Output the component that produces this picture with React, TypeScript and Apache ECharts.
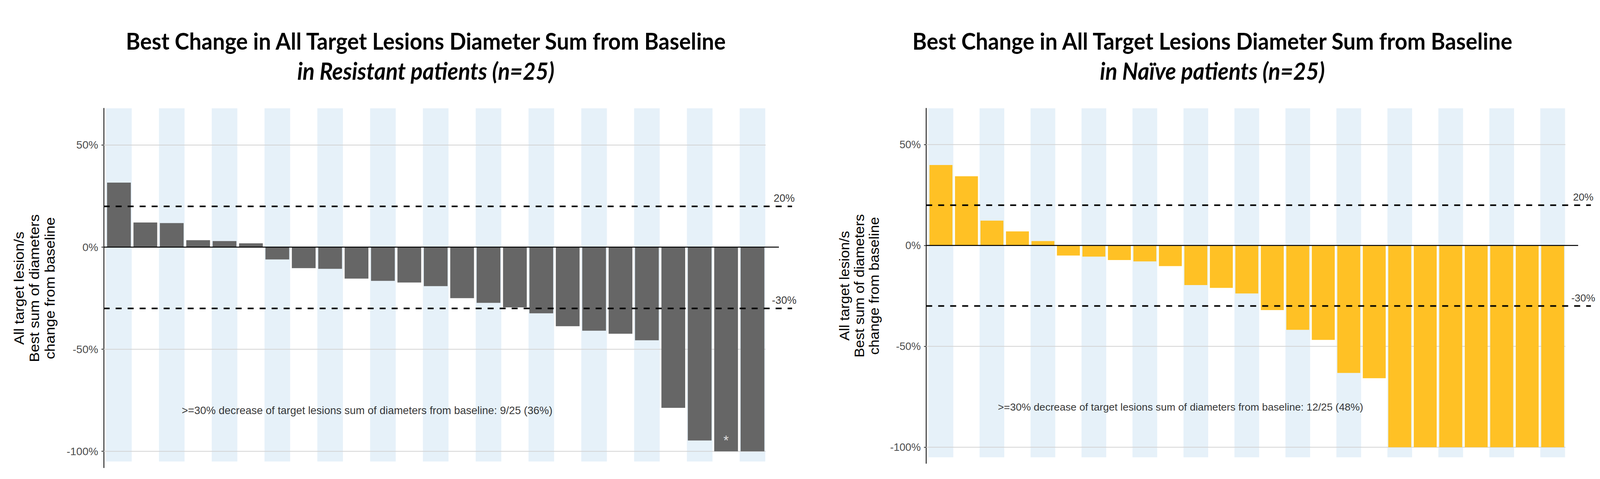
import React, { useEffect, useRef } from "react";
import * as echarts from "echarts";

// ---------- data ----------
const patientIds = [1, 2, 3, 4, 5, 6, 7, 8, 9, 10, 11, 12, 13, 14, 15, 16, 17, 18, 19, 20, 21, 22, 23, 24, 25];
const resistantValues = [31.6, 12.1, 11.8, 3.4, 3.0, 1.9, -6.0, -10.3, -10.6, -15.4, -16.5, -17.3, -19.1, -25.0, -27.3, -29.5, -32.4, -38.7, -40.9, -42.4, -45.6, -78.7, -94.7, -100, -100];
const naiveValues = [39.9, 34.3, 12.3, 7.0, 2.2, -5.0, -5.5, -7.2, -7.9, -10.2, -19.6, -21.0, -23.8, -32.0, -41.8, -46.8, -63.2, -65.8, -100, -100, -100, -100, -100, -100, -100];
const resistantAsterisks = [24];
const naiveAsterisks: number[] = [];
const thresholds = [20, -30];
const thresholdLabels = ["20%", "-30%"];
const yTicks = [50, 0, -50, -100];
const mainTitle = "Best Change in All Target Lesions Diameter Sum from Baseline";
const resistantSubtitle = "in Resistant patients (n=25)";
const naiveSubtitle = "in Naïve patients (n=25)";
const resistantNote = ">=30% decrease of target lesions sum of diameters from baseline: 9/25 (36%)";
const naiveNote = ">=30% decrease of target lesions sum of diameters from baseline: 12/25 (48%)";
const yAxisTitle = "All target lesion/s\nBest sum of diameters\nchange from baseline";

// ---------- axis ranges (data units) ----------
const X_MIN = 0.42;
const X_MAX = 26.8;
const Y_MIN = -108;
const Y_MAX = 68;
const BAND_BOTTOM = -105;
const GRID_END = 25.5;
const ZERO_END = 26;
const THRESH_END = 26.5;
const THRESH_LABEL_X = 26.2;
const THRESH_LABEL_OFFSET = 4;
const NOTE_X = 10.4;
const NOTE_Y = -80;
const ASTERISK_Y = -94.5;

// ---------- layout / style (in reference pixels, 4400 x 1225) ----------
const REF_W = 4400;
const REF_H = 1225;
const panels = [
  {
    subtitle: resistantSubtitle, values: resistantValues, color: "#666666", note: resistantNote,
    asterisks: resistantAsterisks, left: 285, top: 277, width: 1915, height: 919,
    titleX: 1171, yNameX: 95, yNameY: 737, k: 1,
  },
  {
    subtitle: naiveSubtitle, values: naiveValues, color: "#FFC125", note: naiveNote,
    asterisks: naiveAsterisks, left: 2547, top: 277, width: 1849, height: 908,
    titleX: 3334, yNameX: 2364, yNameY: 731, k: 0.97,
  },
];
const BAND_COLOR = "#E6F1F9";
const GRIDLINE_COLOR = "#D3D3D3";
const SANS = "'Liberation Sans', Arial, sans-serif";
const TITLE_FONT = "Lato, 'Open Sans', sans-serif";

function buildOption(sx: number, sy: number) {
  const f = sx; // long horizontal texts
  const fs = Math.sqrt(sx * sy); // short labels
  const grid: any[] = [];
  const xAxis: any[] = [];
  const yAxis: any[] = [];
  const series: any[] = [];
  const graphic: any[] = [];

  panels.forEach((p, pi) => {
    const unit = (p.width * sx) / (X_MAX - X_MIN);
    grid.push({ left: p.left * sx, top: p.top * sy, width: p.width * sx, height: p.height * sy, containLabel: false });
    const dataX = xAxis.length;
    xAxis.push({ type: "value", gridIndex: pi, min: X_MIN, max: X_MAX, show: false });
    const bandX = xAxis.length;
    xAxis.push({ type: "value", gridIndex: pi, min: X_MIN, max: X_MAX, show: false });
    yAxis.push({
      type: "value", gridIndex: pi, min: Y_MIN, max: Y_MAX,
      axisLine: { show: true, onZero: false, lineStyle: { color: "#000000", width: 2 } },
      axisTick: { show: true, length: 6 * sx, customValues: yTicks, lineStyle: { color: "#333333", width: 2 } },
      axisLabel: {
        show: true, customValues: yTicks, formatter: (v: number) => `${v}%`,
        fontSize: 29 * p.k * fs, color: "#4D4D4D", fontFamily: SANS, margin: 15 * sx,
      },
      splitLine: { show: false },
    });

    const oddIds = patientIds.filter((id) => id % 2 === 1);
    // background bands
    series.push({
      type: "bar", xAxisIndex: bandX, yAxisIndex: pi, stack: "band" + pi, silent: true, z: 1,
      barWidth: 0.97 * unit, itemStyle: { color: BAND_COLOR },
      data: oddIds.map((id) => [id, Y_MAX]),
    });
    series.push({
      type: "bar", xAxisIndex: bandX, yAxisIndex: pi, stack: "band" + pi, silent: true, z: 1,
      barWidth: 0.97 * unit, itemStyle: { color: BAND_COLOR },
      data: oddIds.map((id) => [id, BAND_BOTTOM]),
    });
    // gridlines
    yTicks.forEach((t) => {
      series.push({
        type: "line", xAxisIndex: dataX, yAxisIndex: pi, silent: true, z: 2, symbol: "none",
        lineStyle: { color: GRIDLINE_COLOR, width: 2 * sy },
        data: [[X_MIN, t], [GRID_END, t]],
      });
    });
    // data bars
    series.push({
      type: "bar", xAxisIndex: dataX, yAxisIndex: pi, z: 3, barWidth: 0.9 * unit,
      itemStyle: { color: p.color },
      data: p.values.map((v, i) => [patientIds[i], v]),
    });
    // zero line
    series.push({
      type: "line", xAxisIndex: dataX, yAxisIndex: pi, silent: true, z: 4, symbol: "none",
      lineStyle: { color: "#000000", width: 2.5 * sy },
      data: [[X_MIN, 0], [ZERO_END, 0]],
    });
    // thresholds
    thresholds.forEach((t) => {
      series.push({
        type: "line", xAxisIndex: dataX, yAxisIndex: pi, silent: true, z: 5, symbol: "none",
        lineStyle: { color: "#000000", width: 4 * sy, type: [16.5 * sx, 16.5 * sx] },
        data: [[X_MIN, t], [THRESH_END, t]],
      });
    });
    series.push({
      type: "scatter", xAxisIndex: dataX, yAxisIndex: pi, silent: true, z: 6,
      symbolSize: 1, itemStyle: { color: "rgba(0,0,0,0)" },
      label: { show: true, position: "inside", fontSize: 28 * p.k * fs, color: "#000000", fontFamily: SANS },
      data: thresholds.map((t, i) => ({
        value: [THRESH_LABEL_X, t + THRESH_LABEL_OFFSET],
        label: { formatter: thresholdLabels[i] },
      })),
    });
    // note
    series.push({
      type: "scatter", xAxisIndex: dataX, yAxisIndex: pi, silent: true, z: 6,
      symbolSize: 1, itemStyle: { color: "rgba(0,0,0,0)" },
      label: { show: true, position: "inside", fontSize: 29.5 * p.k * f, color: "#000000", fontFamily: SANS, formatter: p.note },
      data: [[NOTE_X, NOTE_Y]],
    });
    // asterisks
    if (p.asterisks.length) {
      series.push({
        type: "scatter", xAxisIndex: dataX, yAxisIndex: pi, silent: true, z: 6,
        symbolSize: 1, itemStyle: { color: "rgba(0,0,0,0)" },
        label: { show: true, position: "inside", fontSize: 36 * p.k * fs, color: "#FFFFFF", fontFamily: SANS, formatter: "*" },
        data: p.asterisks.map((id) => [id, ASTERISK_Y]),
      });
    }

    // titles (font sized to reference height, compressed horizontally to the viewport)
    graphic.push({
      type: "text", x: p.titleX * sx, y: 104 * sy, scaleX: sx / sy, silent: true,
      style: {
        text: mainTitle, fill: "#000000", fontSize: 60 * sy, fontWeight: "bold", fontFamily: TITLE_FONT,
        align: "center", verticalAlign: "middle",
      },
    });
    graphic.push({
      type: "text", x: p.titleX * sx, y: 181 * sy, scaleX: sx / sy, silent: true,
      style: {
        text: p.subtitle, fill: "#000000", fontSize: 61 * sy, fontWeight: "bold", fontStyle: "italic",
        fontFamily: TITLE_FONT, align: "center", verticalAlign: "middle",
      },
    });
    // y axis title (rotated: its length runs vertically, its lines stack horizontally)
    graphic.push({
      type: "text", x: p.yNameX * sx, y: p.yNameY * sy, rotation: Math.PI / 2, scaleY: sx / sy, silent: true,
      style: {
        text: yAxisTitle, fill: "#000000", fontSize: 38 * p.k * sy, lineHeight: 42 * p.k * sy, fontFamily: SANS,
        align: "center", verticalAlign: "middle",
      },
    });
  });

  return {
    animation: false,
    backgroundColor: "#FFFFFF",
    grid, xAxis, yAxis, series, graphic,
  };
}

export default function App() {
  const ref = useRef<HTMLDivElement>(null);
  useEffect(() => {
    if (!ref.current) return;
    const w = window.innerWidth || REF_W;
    const h = window.innerHeight || REF_H;
    const sx = w / REF_W;
    const sy = h / REF_H;
    const chart = echarts.init(ref.current, undefined, { renderer: "svg" });
    chart.setOption(buildOption(sx, sy) as any);
    return () => chart.dispose();
  }, []);
  return (
    <div
      ref={ref}
      style={{ position: "fixed", left: 0, top: 0, width: "100vw", height: "100vh", background: "#FFFFFF" }}
    />
  );
}
